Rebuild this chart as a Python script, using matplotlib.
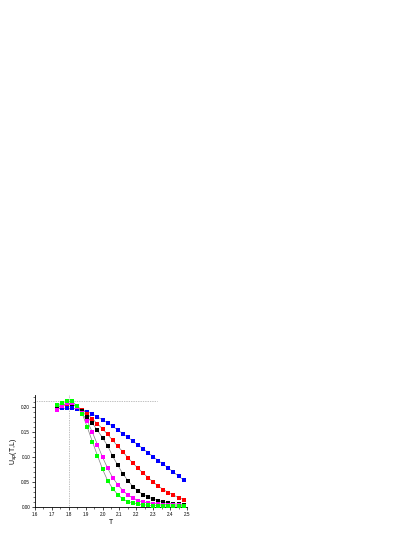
import matplotlib
matplotlib.use("Agg")
import matplotlib.pyplot as plt
from matplotlib.ticker import MultipleLocator

plt.rcParams["font.family"] = ["Liberation Sans", "DejaVu Sans"]

# temperatures (one point every 0.03)
T = [1.73, 1.76, 1.79, 1.82, 1.85, 1.88, 1.91, 1.94, 1.97, 2.00, 2.03, 2.06, 2.09,
     2.12, 2.15, 2.18, 2.21, 2.24, 2.27, 2.30, 2.33, 2.36, 2.39, 2.42, 2.45, 2.48]

u_blue = [0.197, 0.198, 0.198, 0.198, 0.197, 0.195, 0.191, 0.187, 0.181, 0.175,
          0.169, 0.162, 0.155, 0.147, 0.140, 0.132, 0.125, 0.117, 0.109, 0.101,
          0.093, 0.086, 0.078, 0.070, 0.062, 0.054]
u_red = [0.200, 0.204, 0.206, 0.206, 0.202, 0.195, 0.187, 0.177, 0.167, 0.157,
         0.146, 0.134, 0.122, 0.111, 0.099, 0.088, 0.078, 0.068, 0.059, 0.050,
         0.042, 0.035, 0.029, 0.024, 0.019, 0.015]
u_black = [0.201, 0.205, 0.208, 0.207, 0.201, 0.192, 0.181, 0.168, 0.154, 0.139,
           0.123, 0.102, 0.084, 0.067, 0.053, 0.041, 0.032, 0.025, 0.020, 0.016,
           0.013, 0.010, 0.008, 0.0065, 0.0055, 0.0045]
u_magenta = [0.195, 0.202, 0.208, 0.208, 0.200, 0.188, 0.172, 0.150, 0.125, 0.100,
             0.078, 0.059, 0.045, 0.033, 0.024, 0.018, 0.013, 0.010, 0.0085, 0.007,
             0.006, 0.005, 0.0045, 0.004, 0.0035, 0.003]
u_green = [0.204, 0.209, 0.213, 0.212, 0.203, 0.187, 0.160, 0.131, 0.103, 0.076,
           0.053, 0.037, 0.025, 0.016, 0.011, 0.008, 0.006, 0.0045, 0.0035, 0.003,
           0.0025, 0.002, 0.002, 0.0018, 0.0015, 0.0015]

series = [
    (u_blue, "#0000ff"),
    (u_red, "#ff0000"),
    (u_black, "#000000"),
    (u_magenta, "#ff00ff"),
    (u_green, "#00ff00"),
]

T_c = 1.80        # vertical guide
U_star = 0.2125   # horizontal guide
U_star_end = 2.32

fig = plt.figure(figsize=(4.15, 5.37), dpi=100)
ax = fig.add_axes([35 / 415, 1 - 507 / 537, 152 / 415, 112 / 537])

for u, c in series:
    ax.plot(T, u, "-", color="#808080", lw=0.5, zorder=2)
    ax.plot(T, u, "s", color=c, ms=2.3, mew=0, zorder=3)

ax.plot([1.6, U_star_end], [U_star, U_star], ls=(0, (1, 1.5)), color="#808080", lw=0.5, zorder=1)
ax.plot([T_c, T_c], [0, 0.225], ls=(0, (1, 1.5)), color="#808080", lw=0.5, zorder=1)

ax.set_xlim(1.6, 2.5)
ax.set_ylim(0.0, 0.225)
ax.xaxis.set_major_locator(MultipleLocator(0.1))
ax.xaxis.set_minor_locator(MultipleLocator(0.05))
ax.yaxis.set_major_locator(MultipleLocator(0.05))
ax.yaxis.set_minor_locator(MultipleLocator(0.01))
ax.tick_params(which="major", direction="out", length=2, width=0.5, labelsize=3.3, pad=1.5)
ax.tick_params(which="minor", direction="out", length=1.2, width=0.4)
ax.xaxis.set_major_formatter(plt.FuncFormatter(lambda v, p: f"{v:.1f}"))
ax.yaxis.set_major_formatter(plt.FuncFormatter(lambda v, p: f"{v:.2f}"))
ax.spines["top"].set_visible(False)
ax.spines["right"].set_visible(False)
for s in ("left", "bottom"):
    ax.spines[s].set_linewidth(0.6)

ax.set_xlabel("T", fontsize=5, labelpad=1.5)
ax.set_ylabel(r"U$_{sp}$(T,L)", fontsize=5, labelpad=1)

fig.savefig("out.png", dpi=100)
